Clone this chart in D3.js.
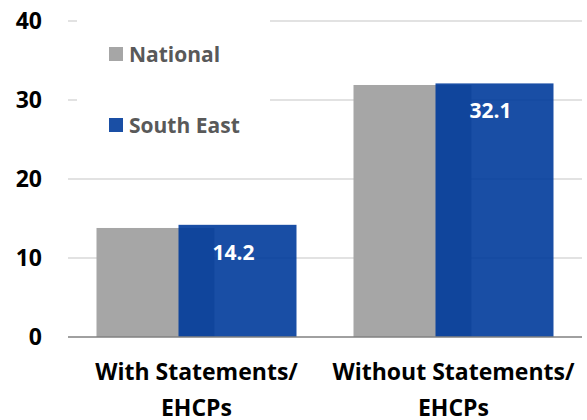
<!DOCTYPE html>
<html>
<head>
<meta charset="utf-8">
<script src="https://cdn.jsdelivr.net/npm/d3@7"></script>
<style>
  html, body { margin: 0; padding: 0; background: #fff; }
  svg { display: block; font-family: "Open Sans", "Noto Sans", sans-serif; font-weight: 700; }
</style>
</head>
<body>
<svg id="chart" width="587" height="420"></svg>
<script>
const categories = [["With Statements/", "EHCPs"], ["Without Statements/", "EHCPs"]];
const seriesNames = ["National", "South East"];
const national = [13.8, 31.9];
const southEast = [14.2, 32.1];
const yTicks = [0, 10, 20, 30, 40];

const W = 587, H = 420;
const margin = { left: 68, right: 5, top: 21, bottom: 83 };
const svg = d3.select("#chart");

const x = d3.scaleBand().domain(d3.range(categories.length))
  .range([margin.left, W - margin.right]).paddingInner(0).paddingOuter(0);
const y = d3.scaleLinear().domain([0, 40]).range([H - margin.bottom, margin.top]);

// gridlines
svg.append("g").selectAll("line").data(yTicks.filter(d => d > 0)).join("line")
  .attr("x1", margin.left).attr("x2", W - margin.right)
  .attr("y1", d => y(d)).attr("y2", d => y(d))
  .attr("stroke", "#d9d9d9").attr("stroke-width", 1.5);

// legend background box (covers gridlines)
svg.append("rect").attr("x", 77).attr("y", 8).attr("width", 193).attr("height", 140).attr("fill", "#fff");

// bars
const barW = 118, offset = 82;
const groupW = offset + barW;
const gx = i => x(i) + x.bandwidth() / 2 - groupW / 2;

svg.append("g").selectAll("rect").data(national).join("rect")
  .attr("x", (d, i) => gx(i)).attr("width", barW)
  .attr("y", d => y(d)).attr("height", d => y(0) - y(d))
  .attr("fill", "#a6a6a6");

svg.append("g").selectAll("rect").data(southEast).join("rect")
  .attr("x", (d, i) => gx(i) + offset).attr("width", barW)
  .attr("y", d => y(d)).attr("height", d => y(0) - y(d))
  .attr("fill", "rgb(0,59,155)").attr("fill-opacity", 0.9);

// value labels
svg.append("g").selectAll("text").data(southEast).join("text")
  .attr("x", (d, i) => gx(i) + offset + barW / 2 - 4)
  .attr("y", d => y(d) + 35)
  .attr("text-anchor", "middle").attr("fill", "#fff").attr("font-size", 21)
  .text(d => d.toFixed(1));

// baseline
svg.append("line").attr("x1", margin.left).attr("x2", W - margin.right)
  .attr("y1", y(0)).attr("y2", y(0)).attr("stroke", "#808080").attr("stroke-width", 1.5);

// y axis labels
svg.append("g").selectAll("text").data(yTicks).join("text")
  .attr("x", 42).attr("y", d => y(d)).attr("dy", "0.36em")
  .attr("text-anchor", "end").attr("font-size", 23).attr("fill", "#000")
  .text(d => d);

// category labels
const cat = svg.append("g").selectAll("text").data(categories).join("text")
  .attr("text-anchor", "middle").attr("font-size", 23).attr("fill", "#000");
cat.each(function(d, i) {
  const t = d3.select(this);
  d.forEach((line, j) => {
    t.append("tspan").attr("x", x(i) + x.bandwidth() / 2).attr("y", 380 + j * 36).text(line);
  });
});

// legend
const legendColors = ["#a6a6a6", "#1a4fa5"];
const lg = svg.append("g").selectAll("g").data(seriesNames).join("g")
  .attr("transform", (d, i) => `translate(109, ${47 + i * 71})`);
lg.append("rect").attr("width", 14).attr("height", 14).attr("fill", (d, i) => legendColors[i]);
lg.append("text").attr("x", 20).attr("y", 7).attr("dy", "0.36em")
  .attr("font-size", 21).attr("fill", "#595959").text(d => d);
</script>
</body>
</html>
